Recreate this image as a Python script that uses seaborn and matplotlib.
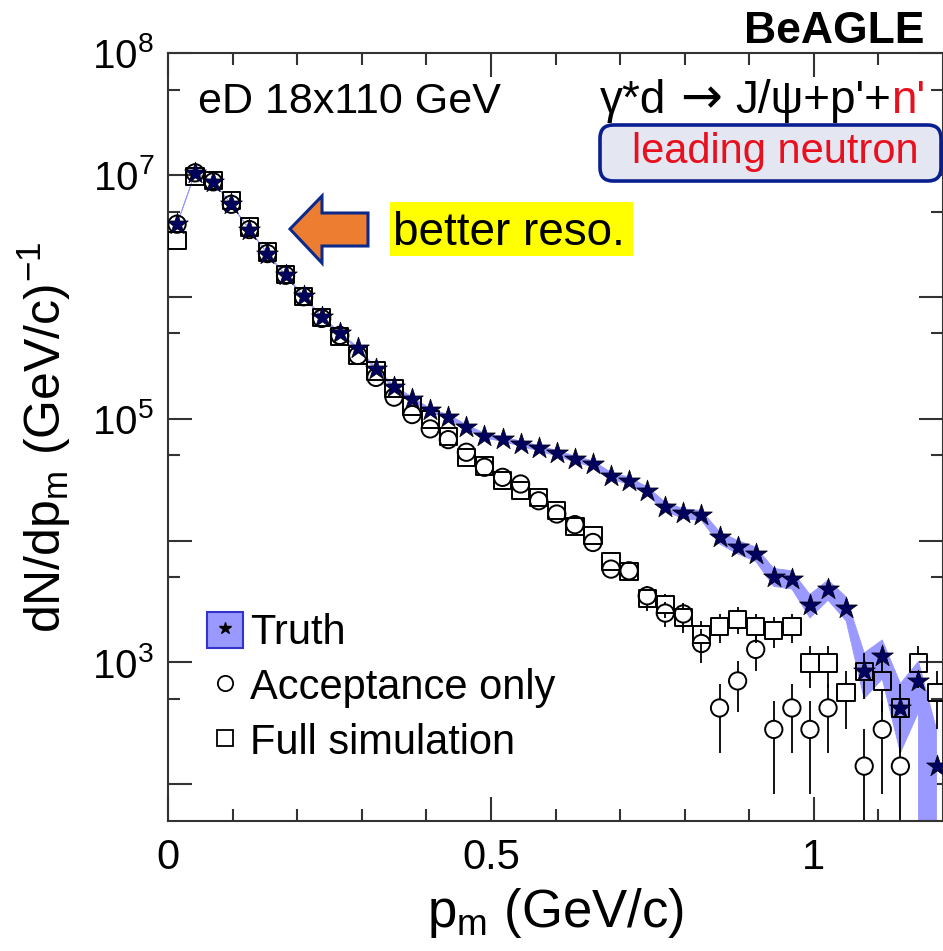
import numpy as np
import pandas as pd
import matplotlib
matplotlib.use("Agg")
import matplotlib.pyplot as plt
import seaborn as sns
from matplotlib.patches import Patch, Polygon, FancyBboxPatch, Rectangle
from matplotlib.lines import Line2D
from matplotlib.ticker import FixedLocator, NullFormatter

# ---------------- data ----------------
bin_width = 0.028
n_bins = 43
pm = bin_width * (np.arange(n_bins) + 0.5)

truth = [3.94e6, 1.04e7, 8.77e6, 5.74e6, 3.56e6, 2.26e6, 1.50e6, 1.01e6, 6.81e5, 5.05e5,
         3.77e5, 2.56e5, 1.81e5, 1.46e5, 1.17e5, 1.04e5, 8.6e4, 7.26e4, 6.82e4, 6.24e4,
         5.73e4, 5.20e4, 4.68e4, 4.26e4, 3.40e4, 3.10e4, 2.56e4, 1.90e4, 1.67e4, 1.61e4,
         1.06e4, 8.9e3, 7.8e3, 5.05e3, 4.83e3, 2.96e3, 3.99e3, 2.82e3, 851, 1130,
         426, 705, 141]
truth_err = [23560, 38280, 35150, 28440, 22400, 17840, 14540, 11930, 9795, 8435,
             7290, 6005, 5050, 4535, 4060, 3830, 3480, 3200, 3100, 2965,
             2840, 2705, 2570, 2450, 2190, 2090, 1900, 1635, 1535, 1505,
             1220, 1120, 1050, 845, 825, 646, 750, 630, 346, 399,
             245, 315, 141]

acc = [3.94e6, 1.04e7, 8.77e6, 5.74e6, 3.56e6, 2.26e6, 1.50e6, 1.00e6, 6.64e5, 4.82e5,
       3.30e5, 2.18e5, 1.50e5, 1.08e5, 8.24e4, 6.73e4, 5.30e4, 3.99e4, 3.30e4, 2.91e4,
       2.12e4, 1.65e4, 1.35e4, 9.64e3, 5.83e3, 5.65e3, 3.52e3, 2.54e3, 2.50e3, 1.43e3,
       423, 705, 1279, 282, 423, 282, 423, np.nan, 141, 282,
       141, np.nan, np.nan]
acc_err = [23560, 38280, 35150, 28440, 22400, 17840, 14540, 11870, 9670, 8240,
           6820, 5540, 4600, 3900, 3410, 3080, 2730, 2370, 2160, 2025,
           1730, 1525, 1380, 1165, 907, 893, 705, 598, 594, 449,
           244, 315, 425, 199, 244, 199, 244, np.nan, 141, 199,
           141, np.nan, np.nan]

full = [2.91e6, 9.75e6, 9.04e6, 6.20e6, 3.74e6, 2.33e6, 1.53e6, 1.01e6, 6.78e5, 4.73e5,
        3.30e5, 2.46e5, 1.76e5, 1.26e5, 9.84e4, 7.13e4, 4.79e4, 4.08e4, 3.10e4, 2.56e4,
        2.26e4, 1.76e4, 1.31e4, 1.10e4, 6.76e3, 5.55e3, 3.33e3, 2.97e3, 2.33e3, 1.69e3,
        1.97e3, 2.26e3, 1.96e3, 1.83e3, 1.96e3, 987, 987, 564, 846, 705,
        423, 987, 564]
full_err = [20250, 37080, 35700, 29560, 22960, 18120, 14690, 11930, 9780, 8170,
            6820, 5890, 4980, 4215, 3725, 3170, 2600, 2400, 2090, 1900,
            1785, 1575, 1359, 1245, 976, 885, 685, 647, 573, 488,
            527, 564, 526, 508, 526, 373, 373, 282, 345, 315,
            244, 373, 282]

y_major = [1e2, 1e3, 1e4, 1e5, 1e6, 1e7, 1e8]
y_major_labels = ["", r"$10^{3}$", "", r"$10^{5}$", "", r"$10^{7}$", r"$10^{8}$"]
y_minor = [5e2, 5e3, 5e4, 5e5, 5e6, 5e7]
x_major = [0, 0.5, 1.0]
x_major_labels = ["0", "0.5", "1"]
x_minor = [0.1, 0.2, 0.3, 0.4, 0.6, 0.7, 0.8, 0.9, 1.1]
y_lim = (50, 1e8)
x_lim = (0, 1.2)

df = pd.DataFrame({"pm": pm, "truth": truth, "truth_err": truth_err,
                   "acc": acc, "acc_err": acc_err, "full": full, "full_err": full_err})

# ---------------- style ----------------
sns.set_theme(style="ticks")
plt.rcParams.update({
    "font.family": ["Liberation Sans", "DejaVu Sans"],
    "mathtext.fontset": "custom",
    "mathtext.rm": "Liberation Sans",
    "mathtext.it": "Liberation Sans:italic",
    "mathtext.bf": "Liberation Sans:bold",
    "axes.edgecolor": "#333333",
    "axes.linewidth": 1.5,
    "text.color": "black",
    "axes.labelcolor": "black",
})

W, H = 943, 951
fig = plt.figure(figsize=(W / 100, H / 100), dpi=100)
fig.patch.set_facecolor("white")


def fx(px):
    return px / W


def fy(py):
    return 1 - py / H


ax_left, ax_right, ax_top, ax_bottom = 168, 943, 53, 821
ax = fig.add_axes([fx(ax_left), fy(ax_bottom), (ax_right - ax_left) / W, (ax_bottom - ax_top) / H])
ax.set_facecolor("white")
ax.set_yscale("log")

band_color = "#9999ff"
star_color = "#00005f"

# truth band
ax.fill_between(df["pm"], df["truth"] - df["truth_err"], df["truth"] + df["truth_err"],
                facecolor=band_color, edgecolor=band_color, linewidth=0.6, zorder=1)

# vertical error bars, drawn only outside the (hollow) markers as ROOT does
decade_px = (ax_bottom - ax_top) / (np.log10(y_lim[1]) - np.log10(y_lim[0]))
marker_half_px = 8.5
gap = 10 ** (marker_half_px / decade_px)
for col in ["acc", "full"]:
    y = df[col].to_numpy(dtype=float)
    e = df[col + "_err"].to_numpy(dtype=float)
    hi = y + e
    lo = np.where(y - e > 0, y - e, 1.0)
    up_ok = hi > y * gap
    dn_ok = lo < y / gap
    ax.vlines(df["pm"][up_ok], (y * gap)[up_ok], hi[up_ok], color="black", lw=1.3, zorder=2)
    ax.vlines(df["pm"][dn_ok], lo[dn_ok], (y / gap)[dn_ok], color="black", lw=1.3, zorder=2)

# markers
sns.scatterplot(data=df, x="pm", y="full", marker="s", s=155, facecolor="none",
                edgecolor="black", linewidth=1.4, zorder=3, legend=False, ax=ax)
sns.scatterplot(data=df, x="pm", y="acc", marker="o", s=155, facecolor="none",
                edgecolor="black", linewidth=1.4, zorder=3, legend=False, ax=ax)
sns.scatterplot(data=df, x="pm", y="truth", marker="*", s=270, color=star_color,
                edgecolor="black", linewidth=0.5, zorder=4, legend=False, ax=ax)

ax.set_xlim(*x_lim)
ax.set_ylim(*y_lim)

ax.set_xticks(x_major)
ax.set_xticklabels(x_major_labels)
ax.xaxis.set_minor_locator(FixedLocator(x_minor))
ax.set_yticks(y_major)
ax.set_yticklabels(y_major_labels)
ax.yaxis.set_minor_locator(FixedLocator(y_minor))
ax.yaxis.set_minor_formatter(NullFormatter())

ax.tick_params(which="both", direction="in", top=True, right=True, color="#333333",
               width=1.5, labelcolor="black")
ax.tick_params(which="major", length=17)
ax.tick_params(which="minor", length=8.6)
ax.tick_params(axis="x", which="major", labelsize=30, pad=12)
ax.tick_params(axis="y", which="major", labelsize=29, pad=10)

ax.set_xlabel(r"p$_{\mathrm{m}}$ (GeV/c)", fontsize=38, labelpad=6)
ax.set_ylabel(r"dN/dp$_{\mathrm{m}}$ (GeV/c)$^{\mathrm{-1}}$", fontsize=36, labelpad=14)

# legend
h_truth = (Patch(facecolor=band_color, edgecolor="#3333cc", linewidth=1.5),
           Line2D([], [], marker="*", ls="", color="black", markersize=9))
h_acc = Line2D([], [], marker="o", ls="", markerfacecolor="none", markeredgecolor="black",
               markersize=11, markeredgewidth=1.3)
h_full = Line2D([], [], marker="s", ls="", markerfacecolor="none", markeredgecolor="black",
                markersize=11, markeredgewidth=1.3)
ax.legend([h_truth, h_acc, h_full], ["Truth", "Acceptance only", "Full simulation"],
          loc="upper left", bbox_to_anchor=((207 - ax_left) / 775, 1 - (612 - ax_top) / 768),
          frameon=False, fontsize=30, handlelength=0.86, handleheight=0.94,
          handletextpad=0.17, labelspacing=0.33, borderpad=0, borderaxespad=0)

# texts
fig.text(fx(924), fy(43), "BeAGLE", ha="right", va="baseline", fontsize=32, fontweight="bold")
fig.text(fx(198), fy(113), "eD 18x110 GeV", ha="left", va="baseline", fontsize=31)

# reaction formula, assembled right to left (last part in red)
renderer = fig.canvas.get_renderer()
pieces = [("n'", "#e8101e", 33, ["Liberation Sans"], 0),
          ("J/ψ+p'+", "black", 33, ["Liberation Sans", "DejaVu Sans"], 13),
          ("→", "black", 36, ["DejaVu Sans"], 14),
          ("γ*d", "black", 33, ["Liberation Sans", "DejaVu Sans"], 0)]
x_cur = 925
for s, c, fs, fam, gap_after in pieces:
    t = fig.text(fx(x_cur), fy(113), s, ha="right", va="baseline", color=c,
                 fontsize=fs, family=fam)
    bb = t.get_window_extent(renderer)
    x_cur = bb.x0 - gap_after

box = FancyBboxPatch((fx(600), fy(181)), (941 - 600) / W, (181 - 125) / H,
                     boxstyle="round,pad=0,rounding_size=0.014", transform=fig.transFigure,
                     facecolor="#e4e6f2", edgecolor="#0a1f8f", linewidth=2.6, zorder=5)
fig.add_artist(box)
fig.text(fx(775), fy(163), "leading neutron", ha="center", va="baseline", color="#e8101e",
         fontsize=30, zorder=6)

arrow_px = [(290, 229), (322, 196), (322, 213), (368, 213), (368, 246), (322, 246), (322, 263)]
arrow = Polygon([(fx(a), fy(b)) for a, b in arrow_px], closed=True, transform=fig.transFigure,
                facecolor="#ed7d31", edgecolor="#0b2a8a", linewidth=2.2, zorder=5)
fig.add_artist(arrow)

yellow = Rectangle((fx(390), fy(256)), (633 - 390) / W, (256 - 202) / H,
                   transform=fig.transFigure, facecolor="#ffff00", edgecolor="none", zorder=5)
fig.add_artist(yellow)
fig.text(fx(393), fy(245), "better reso.", ha="left", va="baseline", fontsize=33, zorder=6)

fig.savefig("out.png", dpi=100)
